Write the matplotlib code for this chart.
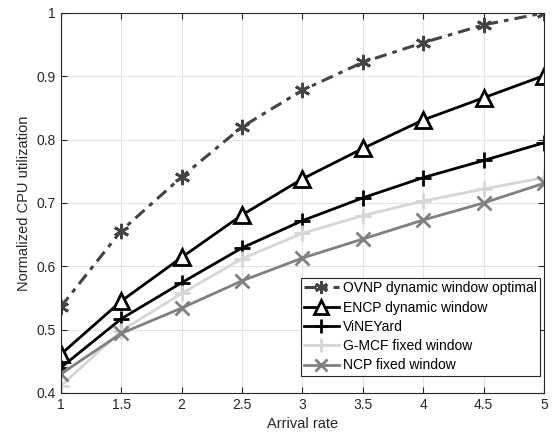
import numpy as np
import matplotlib.pyplot as plt

plt.rcParams['font.family'] = ['Liberation Sans', 'DejaVu Sans']

rate = [1, 1.5, 2, 2.5, 3, 3.5, 4, 4.5, 5]
ovnp = [0.536, 0.656, 0.741, 0.820, 0.878, 0.922, 0.953, 0.981, 1.0]
encp = [0.461, 0.545, 0.614, 0.681, 0.738, 0.786, 0.831, 0.866, 0.901]
vineyard = [0.440, 0.517, 0.574, 0.629, 0.672, 0.708, 0.740, 0.767, 0.795]
gmcf = [0.411, 0.498, 0.557, 0.612, 0.652, 0.680, 0.703, 0.722, 0.740]
ncp = [0.430, 0.494, 0.534, 0.577, 0.613, 0.643, 0.673, 0.700, 0.731]

fig = plt.figure(figsize=(5.53, 4.43), dpi=100)
ax = fig.add_axes([0.110, 0.113, 0.874, 0.858])

ax.plot(rate, ovnp, color='#444444', lw=2.2, dashes=(4, 2, 1.5, 2), marker=(6, 2, 0), ms=11, mew=2,
        label='OVNP dynamic window optimal')
ax.plot(rate, encp, '-', color='black', lw=2, marker='^', ms=12, mfc='white', mew=2,
        label='ENCP dynamic window')
ax.plot(rate, vineyard, '-', color='black', lw=2, marker='+', ms=12, mew=2,
        label='ViNEYard')
ax.plot(rate, gmcf, '-', color='#d6d6d6', lw=2, marker='+', ms=12, mew=2,
        label='G-MCF fixed window')
ax.plot(rate, ncp, '-', color='#808080', lw=2, marker='x', ms=10, mew=2,
        label='NCP fixed window')

ax.set_xlim(1, 5)
ax.set_ylim(0.4, 1)
ax.set_xticks(rate)
ax.set_xticklabels(['1', '1.5', '2', '2.5', '3', '3.5', '4', '4.5', '5'])
ax.set_yticks([0.4, 0.5, 0.6, 0.7, 0.8, 0.9, 1])
ax.set_yticklabels(['0.4', '0.5', '0.6', '0.7', '0.8', '0.9', '1'])
ax.grid(True, color='#e3e3e3', lw=0.8)
ax.set_axisbelow(True)
ax.tick_params(direction='in', labelsize=10, colors='#262626', length=4, top=True, right=True)
for s in ax.spines.values():
    s.set_color('#262626')
ax.set_xlabel('Arrival rate', fontsize=10.5, color='#262626')
ax.set_ylabel('Normalized CPU utilization', fontsize=10.5, color='#262626')

leg = ax.legend(loc='lower right', bbox_to_anchor=(0.992, 0.045), borderaxespad=0,
                fontsize=10, fancybox=False, framealpha=1, edgecolor='#262626',
                handlelength=2.5, handletextpad=0.3, labelspacing=0.38, borderpad=0.25,
                markerscale=0.85)
leg.get_frame().set_linewidth(0.8)

plt.savefig('out.png', dpi=100)
